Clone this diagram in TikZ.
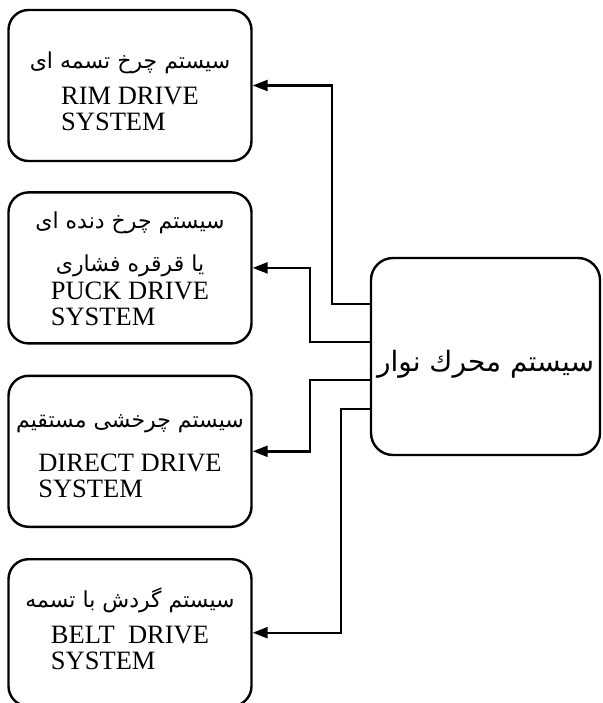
\documentclass[tikz,border=0pt]{standalone}
\usepackage{fontspec}
\setmainfont{Liberation Serif}
\newfontfamily\farsifont[Script=Arabic]{DejaVu Sans}
\TeXXeTstate=1
\usetikzlibrary{positioning,arrows.meta}
\newcommand{\fa}[2][22]{{\farsifont\fontsize{#1}{#1}\selectfont\beginR #2\endR}}

\begin{document}
\begin{tikzpicture}[x=1pt,y=-1pt,->,>={Triangle[length=15pt,width=11pt]},line width=2.4pt,
    drive node/.style={rectangle,draw,rounded corners=20pt,minimum width=243pt,minimum height=151pt,align=center,inner sep=0pt,font=\fontsize{26.5}{26}\selectfont},
    motor node/.style={rectangle,draw,rounded corners=22pt,minimum width=229pt,minimum height=197pt,align=center,inner sep=0pt}]
                \useasboundingbox (0,0) rectangle (602,703);
                \node[drive node] (rim) at (130,85.5) {\rule{0pt}{36pt}\fa{سیستم چرخ تسمه ای}\\[12pt]
                    \begin{tabular}{@{}l@{}}RIM DRIVE\\SYSTEM\end{tabular}};
                \node[drive node] (puck) [below=29pt of rim] {\rule{0pt}{26pt}\fa{سیستم چرخ دنده ای}\\[17pt]
                    \fa{یا قرقره فشاری}\\[3pt]
                    \begin{tabular}{@{}l@{}}PUCK DRIVE\\SYSTEM\end{tabular}};
                \node[drive node] (direct) [below=30pt of puck] {\rule{0pt}{30pt}\fa{سیستم چرخشی مستقیم}\\[19pt]
                    \begin{tabular}{@{}l@{}}DIRECT DRIVE\\SYSTEM\end{tabular}};
                \node[drive node,minimum height=147pt] (belt) [below=30pt of direct] {\fa{سیستم گردش با تسمه}\\[12pt]
                    \begin{tabular}{@{}l@{}}BELT\ \ DRIVE\\SYSTEM\end{tabular}};
                \node[motor node] (motor) at (485.5,356.5) {\raisebox{-15pt}[0pt][0pt]{\fa[28]{سیستم محرك نوار}}};

                \draw ([yshift=52.5pt]motor.west) -- ++(-38,0) |- (rim.east);
                \draw ([yshift=14.5pt]motor.west) -- ++(-60,0) |- (puck.east);
                \draw ([yshift=-23.5pt]motor.west) -- ++(-60,0) |- (direct.east);
                \draw ([yshift=-52.5pt]motor.west) -- ++(-29,0) |- (belt.east);

            \end{tikzpicture}
\end{document}
